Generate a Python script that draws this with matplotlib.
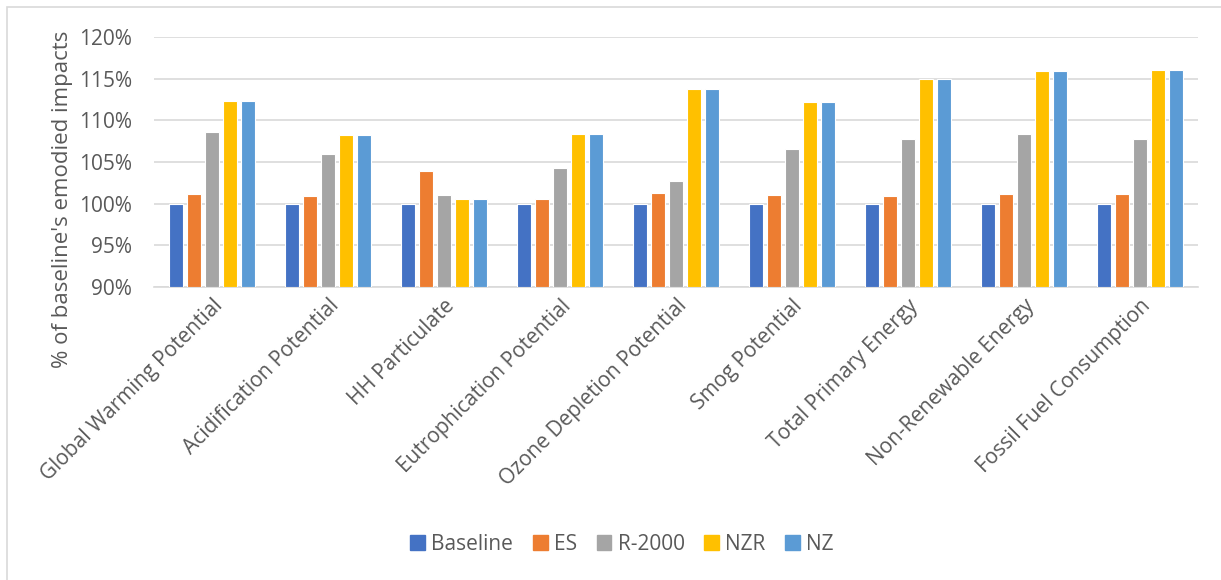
import matplotlib
matplotlib.use("Agg")
import matplotlib.pyplot as plt
import numpy as np
from matplotlib.patches import Rectangle
from matplotlib.ticker import FuncFormatter

categories = [
    "Global Warming Potential",
    "Acidification Potential",
    "HH Particulate",
    "Eutrophication Potential",
    "Ozone Depletion Potential",
    "Smog Potential",
    "Total Primary Energy",
    "Non-Renewable Energy",
    "Fossil Fuel Consumption",
]
series_names = ["Baseline", "ES", "R-2000", "NZR", "NZ"]
baseline = [100.0, 100.0, 100.0, 100.0, 100.0, 100.0, 100.0, 100.0, 100.0]
es = [101.2, 100.9, 103.9, 100.5, 101.3, 101.0, 100.9, 101.1, 101.2]
r2000 = [108.6, 105.9, 101.0, 104.3, 102.7, 106.6, 107.7, 108.3, 107.8]
nzr = [112.3, 108.2, 100.5, 108.4, 113.7, 112.2, 115.0, 115.9, 116.0]
nz = [112.3, 108.2, 100.5, 108.4, 113.7, 112.2, 115.0, 115.9, 116.0]
y_ticks = [90, 95, 100, 105, 110, 115, 120]

colors = ["#4472C4", "#ED7D31", "#A5A5A5", "#FFC000", "#5B9BD5"]
text_color = "#595959"
font = "Open Sans"

plt.rcParams["font.family"] = [font, "DejaVu Sans"]

W, H = 1221, 580
fig = plt.figure(figsize=(W / 100, H / 100), dpi=100)
fig.patch.set_facecolor("white")

# outer chart frame
fig.add_artist(Rectangle((7 / W, -0.1), 1.2, 1 - 7 / H + 0.1,
                         transform=fig.transFigure, fill=False,
                         edgecolor="#D9D9D9", linewidth=1.2))

left, right, top, bottom = 154, 1198, 37, 287
ax = fig.add_axes([left / W, 1 - bottom / H, (right - left) / W, (bottom - top) / H])

x = np.arange(len(categories))
pitch = 0.155
width = 0.122
all_series = [baseline, es, r2000, nzr, nz]
for i, (name, vals) in enumerate(zip(series_names, all_series)):
    offset = (i - 2) * pitch
    ax.bar(x + offset, np.array(vals) - 90, bottom=90, width=width,
           color=colors[i], edgecolor="white", linewidth=0.8,
           label=name, zorder=3)

ax.set_xlim(-0.5, len(categories) - 0.5)
ax.set_ylim(90, 120)
ax.set_yticks(y_ticks)
ax.yaxis.set_major_formatter(FuncFormatter(lambda v, p: f"{v:.0f}%"))
ax.grid(axis="y", color="#D9D9D9", linewidth=1.2, zorder=0)
ax.set_axisbelow(True)

for s in ["top", "right", "left"]:
    ax.spines[s].set_visible(False)
ax.spines["bottom"].set_color("#D9D9D9")
ax.spines["bottom"].set_linewidth(1.2)

ax.tick_params(axis="y", length=0, pad=16, labelsize=15, labelcolor=text_color)
ax.tick_params(axis="x", length=0, pad=6, labelsize=15, labelcolor=text_color)
ax.set_xticks(x)
ax.set_xticklabels(categories, rotation=45, ha="right", rotation_mode="anchor")

fig.text(63 / W, 1 - 199 / H, "% of baseline's emodied impacts", rotation=90,
         ha="center", va="center", fontsize=16, color=text_color)

handles = [Rectangle((0, 0), 1, 1, color=c) for c in colors]
fig.legend(handles, series_names, loc="center", bbox_to_anchor=(622 / W, 1 - 544 / H),
           ncol=5, frameon=False, fontsize=15, labelcolor=text_color,
           handlelength=0.7, handleheight=0.7, handletextpad=0.3, columnspacing=0.95)

fig.savefig("out.png", dpi=100, facecolor="white")
